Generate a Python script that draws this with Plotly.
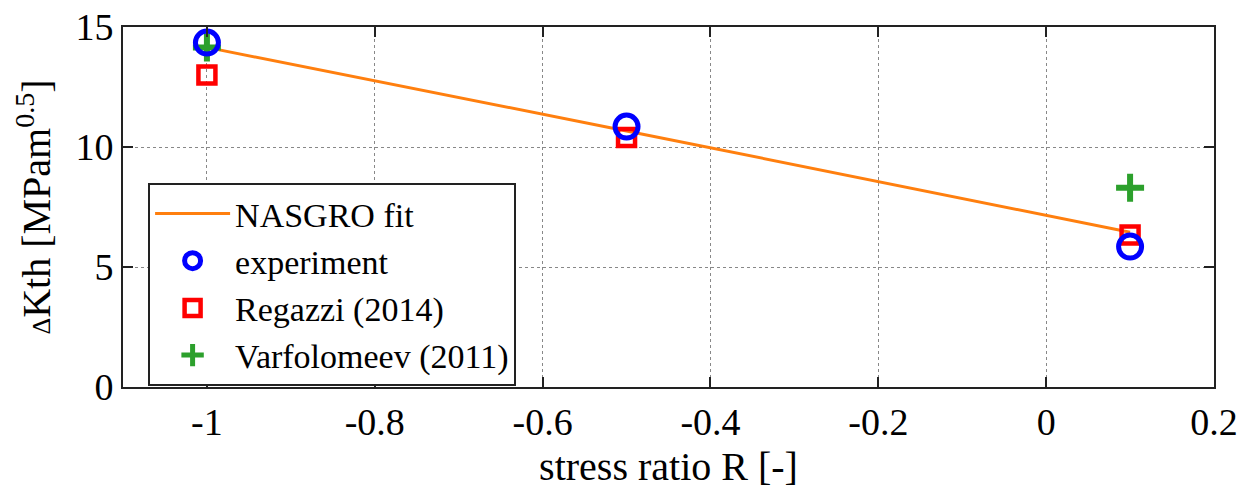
import plotly.graph_objects as go

# Threshold stress intensity range vs. stress ratio
fit_R = [-1.0, -0.5, 0.1]
fit_dK = [14.15, 10.67, 6.45]

exp_R = [-1.0, -0.5, 0.1]
exp_dK = [14.35, 10.85, 5.85]

regazzi_R = [-1.0, -0.5, 0.1]
regazzi_dK = [13.0, 10.4, 6.33]

varf_R = [-1.0, 0.1]
varf_dK = [14.15, 8.3]

x_ticks = [-1, -0.8, -0.6, -0.4, -0.2, 0, 0.2]
x_tick_text = ["-1", "-0.8", "-0.6", "-0.4", "-0.2", "0", "0.2"]
y_ticks = [0, 5, 10, 15]

FONT = "Liberation Serif"

fig = go.Figure()

fig.add_trace(go.Scatter(
    x=fit_R, y=fit_dK, mode="lines", name="NASGRO fit",
    line=dict(color="#ff7f0e", width=3),
))
fig.add_trace(go.Scatter(
    x=varf_R, y=varf_dK, mode="markers", name="Varfolomeev (2011)",
    marker=dict(symbol="cross-thin", size=20, color="#2ca02c",
                line=dict(color="#2ca02c", width=6)),
))
fig.add_trace(go.Scatter(
    x=regazzi_R, y=regazzi_dK, mode="markers", name="Regazzi (2014)",
    marker=dict(symbol="square-open", size=17, color="#ff0000",
                line=dict(color="#ff0000", width=4.5)),
))
fig.add_trace(go.Scatter(
    x=exp_R, y=exp_dK, mode="markers", name="experiment",
    marker=dict(symbol="circle-open", size=23, color="#0000ff",
                line=dict(color="#0000ff", width=5)),
))

axis_common = dict(
    showline=True, linecolor="#222222", linewidth=2, mirror="ticks",
    ticks="inside", ticklen=10, tickcolor="#222222", tickwidth=1.5,
    showgrid=True, gridcolor="#888888", griddash="dot", gridwidth=1,
    zeroline=False, automargin=False,
    tickfont=dict(family=FONT, size=38, color="black"),
)

fig.update_xaxes(
    range=[-1.1, 0.2], tickvals=x_ticks, ticktext=x_tick_text,
    title=dict(text="stress ratio R [-]", font=dict(family=FONT, size=40, color="black"),
               standoff=10),
    **axis_common,
)
fig.update_yaxes(
    range=[0, 15], tickvals=y_ticks,
    title=dict(text="<span style='font-size:26px'>Δ</span>Kth [MPam<sup>0.5</sup>]",
               font=dict(family=FONT, size=40, color="black"), standoff=12),
    **axis_common,
)

fig.update_layout(
    width=1243, height=495, autosize=False,
    margin=dict(l=123, r=29, t=27, b=108, pad=0, autoexpand=False),
    plot_bgcolor="white", paper_bgcolor="white",
    font=dict(family=FONT, color="black"),
    showlegend=True,
    legend=dict(
        x=0.023, y=0.567, xanchor="left", yanchor="top",
        bgcolor="white", bordercolor="#222222", borderwidth=2,
        font=dict(family=FONT, size=34, color="black"),
        traceorder="normal", itemwidth=75,
        tracegroupgap=0,
    ),
)

# legend order: fit, experiment, Regazzi, Varfolomeev
order = {"NASGRO fit": 1, "experiment": 2, "Regazzi (2014)": 3, "Varfolomeev (2011)": 4}
for tr in fig.data:
    tr.legendrank = order[tr.name]

fig.write_html("out.html")
